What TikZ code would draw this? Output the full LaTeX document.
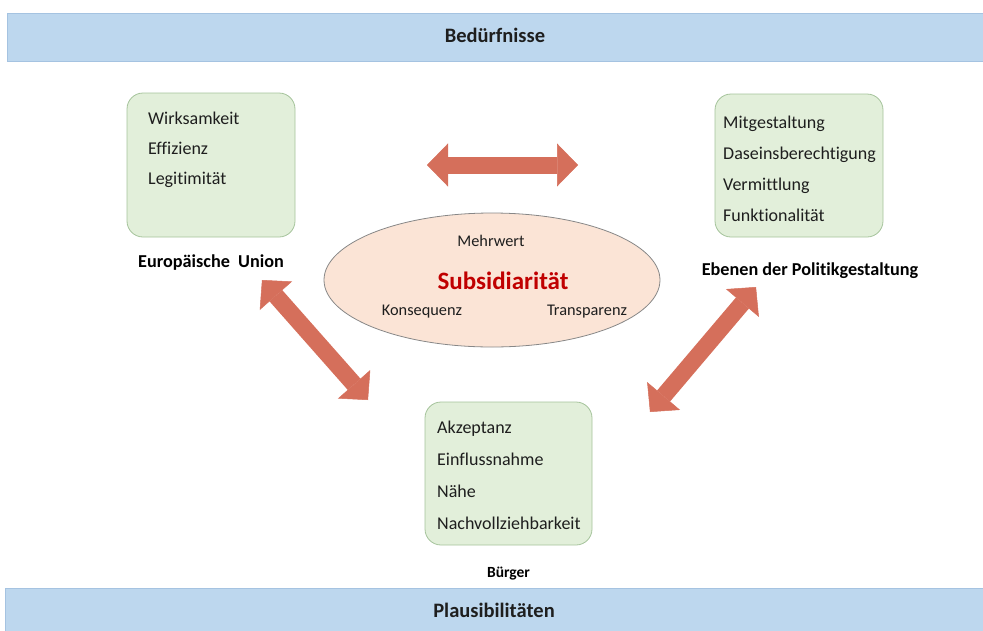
\documentclass[tikz,border=0pt]{standalone}
\usepackage{fontspec}
\setmainfont{Carlito}[Ligatures=NoCommon]
\usetikzlibrary{arrows.meta, positioning, shapes.geometric}

\definecolor{barblue}{RGB}{189,215,238}
\definecolor{barline}{RGB}{165,195,225}
\definecolor{boxgreen}{RGB}{226,239,218}
\definecolor{boxline}{RGB}{165,195,155}
\definecolor{ellfill}{RGB}{251,228,214}
\definecolor{ellline}{RGB}{135,135,135}
\definecolor{arrowred}{RGB}{213,111,91}
\definecolor{subsred}{RGB}{192,0,0}
\definecolor{textgray}{RGB}{30,30,30}

\begin{document}
\begin{tikzpicture}[x=1pt, y=1pt,
        bar/.style = {
            rectangle,
            draw=barline,
            fill=barblue,
            minimum height=48pt,
            font=\fontsize{20.5}{24}\selectfont\bfseries,
            text=textgray
        },
        actor/.style = {
            rectangle,
            draw=boxline,
            fill=boxgreen,
            rounded corners=16pt,
            line width=0.8pt
        },
        items/.style = {
            anchor=north west,
            inner sep=0pt,
            align=left,
            text=textgray,
            font=\fontsize{18}{30}\selectfont
        },
        actorname/.style = {
            inner sep=0pt,
            font=\fontsize{18.2}{20}\selectfont\bfseries
        },
        hub/.style = {
            ellipse,
            draw=ellline,
            fill=ellfill,
            line width=0.8pt,
            minimum width=336pt,
            minimum height=134pt
        },
        hubtext/.style = {
            text=textgray,
            font=\fontsize{16.3}{19}\selectfont
        },
        bigarrow/.style = {
            draw=arrowred,
            line width=17pt,
            {Triangle[length=21pt, width=43pt, line width=0.5pt]}-{Triangle[length=21pt, width=43pt, line width=0.5pt]}
        }
    ]
    \useasboundingbox (0,0) rectangle (983,-630);

    % Balken oben und unten
    \node (needs) [bar, minimum width=976pt] at (495,-37) {\raisebox{3pt}{Bedürfnisse}};
    \node (plaus) [bar, minimum width=978pt, minimum height=44pt] at (494,-610) {Plausibilitäten};

    % Akteure
    \node (eu) [actor, minimum width=168pt, minimum height=144pt] at (211,-165) {};
    \node (eu_items) [items] at (148,-112) {Wirksamkeit\\Effizienz\\Legitimität};
    \node (eu_name) [actorname, below=17pt of eu] {Europäische\ \ Union};

    \node (levels) [actor, minimum width=168pt, minimum height=143pt] at (799,-165.5) {};
    \node (levels_items) [items, font=\fontsize{18}{31}\selectfont] at (723,-116) {Mitgestaltung\\Daseinsberechtigung\\Vermittlung\\Funktionalität};
    \node (levels_name) [actorname, below=25pt of levels, xshift=11pt] {Ebenen der Politikgestaltung};

    \node (citizens) [actor, minimum width=167pt, minimum height=143pt] at (508.5,-473.5) {};
    \node (citizens_items) [items, font=\fontsize{18}{32}\selectfont] at (437,-421) {Akzeptanz\\Einflussnahme\\Nähe\\Nachvollziehbarkeit};
    \node (citizens_name) [actorname, below=21pt of citizens, font=\fontsize{15.5}{18}\selectfont\bfseries] {Bürger};

    % Subsidiarität in der Mitte
    \node (subs) [hub] at (492,-280) {};
    \node (subs_title) [text=subsred, font=\fontsize{25}{28}\selectfont\bfseries] at (503,-281) {Subsidiarität};
    \node (mehrwert) [hubtext] at (491,-241) {Mehrwert};
    \node (konsequenz) [hubtext] at (422,-312) {Konsequenz};
    \node (transparenz) [hubtext] at (587,-312) {Transparenz};

    % Pfeile zwischen den Akteuren
    \coordinate (top_w) at (427,-165);
    \coordinate (top_e) at (578,-165);
    \coordinate (left_n) at (262,-280);
    \coordinate (left_s) at (368,-400);
    \coordinate (right_n) at (756,-287);
    \coordinate (right_s) at (650,-412);

    \draw[bigarrow] (top_w) -- (top_e);
    \draw[bigarrow] (left_n) -- (left_s);
    \draw[bigarrow] (right_n) -- (right_s);
\end{tikzpicture}
\end{document}
